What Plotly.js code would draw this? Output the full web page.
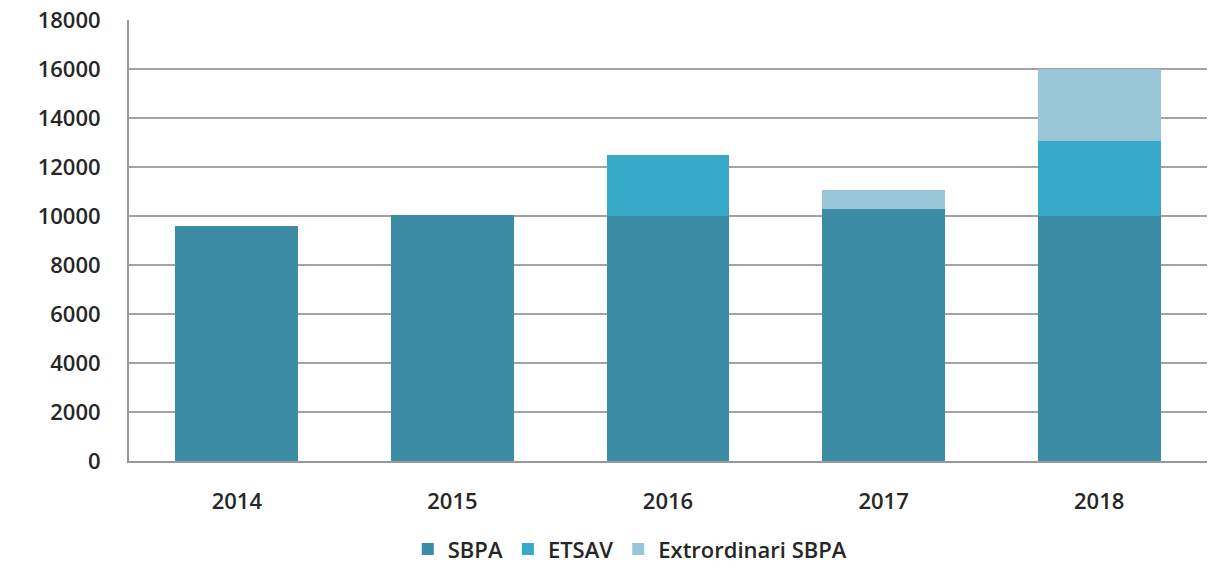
<!DOCTYPE html>
<html>
<head>
<meta charset="utf-8">
<script src="https://cdn.plot.ly/plotly-3.0.1.min.js"></script>
<style>html,body{margin:0;padding:0;background:#fff;}#chart{width:1224px;height:573px;}</style>
</head>
<body>
<div id="chart"></div>
<script>
const years = ['2014', '2015', '2016', '2017', '2018'];
const sbpa = [9600, 10050, 10000, 10300, 10000];
const etsav = [0, 0, 2500, 0, 3050];
const extraSbpa = [0, 0, 0, 750, 2950];
const yTicks = [0, 2000, 4000, 6000, 8000, 10000, 12000, 14000, 16000, 18000];

const font = {family: 'Open Sans, Noto Sans, sans-serif', size: 22, color: '#262626', weight: 600};

const traces = [
  {type: 'bar', name: 'SBPA', x: years, y: sbpa, marker: {color: '#3d8ca5'}},
  {type: 'bar', name: 'ETSAV', x: years, y: etsav, marker: {color: '#36aac6'}},
  {type: 'bar', name: 'Extrordinari SBPA', x: years, y: extraSbpa, marker: {color: '#98c6d8'}}
];

const layout = {
  width: 1224, height: 573,
  margin: {l: 129, r: 17, t: 20, b: 112, autoexpand: false},
  barmode: 'stack',
  bargap: 0.43,
  paper_bgcolor: '#fff', plot_bgcolor: '#fff',
  font: font,
  showlegend: true,
  legend: {orientation: 'h', x: 0.465, xanchor: 'center', y: -0.2, yanchor: 'middle',
           font: font, traceorder: 'normal', itemwidth: 30},
  xaxis: {type: 'category', showline: true, linecolor: '#999', linewidth: 2, automargin: false,
          ticks: '', tickfont: font, ticklabelstandoff: 20, showgrid: false},
  yaxis: {range: [0, 18000], tickvals: yTicks, ticktext: yTicks.map(String), automargin: false,
          showgrid: true, gridcolor: '#a3a3a3', gridwidth: 2,
          showline: true, linecolor: '#999', linewidth: 2,
          ticks: '', tickfont: font, ticklabelstandoff: 22, zeroline: false}
};

Plotly.newPlot('chart', traces, layout, {displayModeBar: false, staticPlot: true});
</script>
</body>
</html>
